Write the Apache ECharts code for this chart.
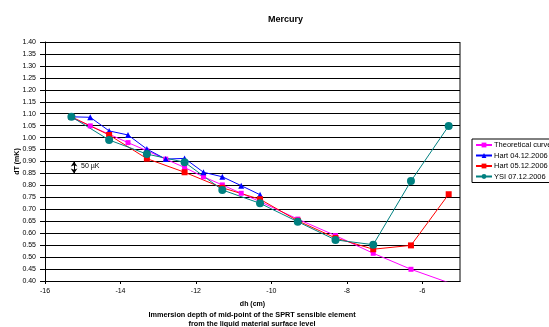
<!DOCTYPE html>
<html><head><meta charset="utf-8">
<script src="https://cdn.jsdelivr.net/npm/echarts@6/dist/echarts.min.js"></script>
<style>html,body{margin:0;padding:0;background:#fff}#c{width:549px;height:327px}</style>
</head><body><div id="c"></div>
<script>
const theoX = [-15.3, -14.8, -14.3, -13.8, -13.3, -12.8, -12.3, -11.8, -11.3, -10.8, -10.3, -9.3, -8.3, -7.3, -6.3, -5.3];
const theoY = [1.084, 1.049, 1.014, 0.979, 0.945, 0.910, 0.875, 0.836, 0.802, 0.767, 0.732, 0.659, 0.590, 0.516, 0.449, 0.393];
const hart04X = [-15.3, -14.8, -14.3, -13.8, -13.3, -12.8, -12.3, -11.8, -11.3, -10.8, -10.3];
const hart04Y = [1.087, 1.085, 1.028, 1.011, 0.952, 0.910, 0.913, 0.855, 0.836, 0.799, 0.761];
const hart05X = [-15.3, -14.3, -13.3, -12.3, -11.3, -10.3, -9.3, -8.3, -7.3, -6.3, -5.3];
const hart05Y = [1.087, 1.011, 0.912, 0.855, 0.790, 0.742, 0.652, 0.580, 0.533, 0.549, 0.763];
const ysiX = [-15.3, -14.3, -13.3, -12.3, -11.3, -10.3, -9.3, -8.3, -7.3, -6.3, -5.3];
const ysiY = [1.087, 0.990, 0.931, 0.897, 0.781, 0.725, 0.648, 0.572, 0.552, 0.818, 1.049];
const seriesNames = ['Theoretical curve', 'Hart 04.12.2006', 'Hart 05.12.2006', 'YSI 07.12.2006'];
const arrowX = -15.23, arrowY = [0.90, 0.85];
const font = '"Liberation Sans", Arial, sans-serif';
const zip = (xs, ys) => xs.map((x, i) => [x, ys[i]]);

const chart = echarts.init(document.getElementById('c'), null, {renderer: 'canvas'});
function mk(name, xs, ys, color, symbol, size) {
  return {
    name, type: 'line', data: zip(xs, ys), symbol, symbolSize: size,
    lineStyle: {color, width: 1}, itemStyle: {color}, clip: true, animation: false
  };
}
const series = [
  mk(seriesNames[0], theoX, theoY, '#FF00FF', 'rect', 5),
  mk(seriesNames[1], hart04X, hart04Y, '#0000FF', 'triangle', 6),
  mk(seriesNames[2], hart05X, hart05Y, '#FF0000', 'rect', 6),
  mk(seriesNames[3], ysiX, ysiY, '#008080', 'circle', 8)
];
series[0].markLine = {
  silent: true, symbol: ['arrow', 'arrow'], symbolSize: [5, 5],
  lineStyle: {color: '#000', width: 1, type: 'solid'}, label: {show: false},
  data: [[{coord: [arrowX, arrowY[0]]}, {coord: [arrowX, arrowY[1]]}]]
};
chart.setOption({
  animation: false,
  textStyle: {fontFamily: font},
  title: {text: 'Mercury', left: 263, top: 10,
    textStyle: {fontSize: 9, fontWeight: 'bold', color: '#000', fontFamily: font}},
  grid: {left: 45, right: 89, top: 42, bottom: 46, show: true, borderColor: '#808080', borderWidth: 0},
  legend: {
    data: seriesNames, orient: 'vertical', left: 472, top: 139,
    itemWidth: 16, itemHeight: 6, itemGap: 2.5, padding: [2, 4, 2, 3],
    borderColor: '#000', borderWidth: 1, backgroundColor: '#fff',
    textStyle: {fontSize: 7.5, color: '#000', fontFamily: font, padding: [0,0,0,-3]}
  },
  xAxis: {
    type: 'value', min: -16, max: -5, interval: 2,
    name: 'dh (cm)', nameLocation: 'middle', nameGap: 20, nameMoveOverlap: false,
    nameTextStyle: {fontSize: 7, fontWeight: 'bold', color: '#000'},
    axisLine: {show: true, onZero: false, lineStyle: {color: '#000', width: 1}},
    axisTick: {show: true, length: 3, lineStyle: {color: '#000'}},
    axisLabel: {fontSize: 7, color: '#000', showMaxLabel: false, margin: 7},
    splitLine: {show: false}
  },
  yAxis: {
    type: 'value', min: 0.4, max: 1.4, interval: 0.05,
    name: 'dT (mK)', nameLocation: 'middle', nameGap: 24, nameRotate: 90, nameMoveOverlap: false,
    nameTextStyle: {fontSize: 7, fontWeight: 'bold', color: '#000'},
    axisLine: {show: true, lineStyle: {color: '#000', width: 1}},
    axisTick: {show: true, length: 5, lineStyle: {color: '#000'}},
    axisLabel: {fontSize: 7, color: '#000', margin: 9, formatter: v => v.toFixed(2)},
    splitLine: {show: true, lineStyle: {color: '#000', width: 1}}
  },
  graphic: [
    {type: 'line', shape: {x1: 460, y1: 42, x2: 460, y2: 282}, style: {stroke: '#808080', lineWidth: 2}},
    {type: 'text', left: 81, top: 163, style: {text: '50 µK', fontSize: 7, fill: '#000', font: '7px ' + font}},
    {type: 'text', x: 252, y: 310, style: {text: 'Immersion depth of mid-point of the SPRT sensible element\nfrom the liquid material surface level',
      textAlign: 'center', textVerticalAlign: 'top', fill: '#000', font: 'bold 7.3px ' + font, lineHeight: 9}}
  ],
  series
});
</script></body></html>
